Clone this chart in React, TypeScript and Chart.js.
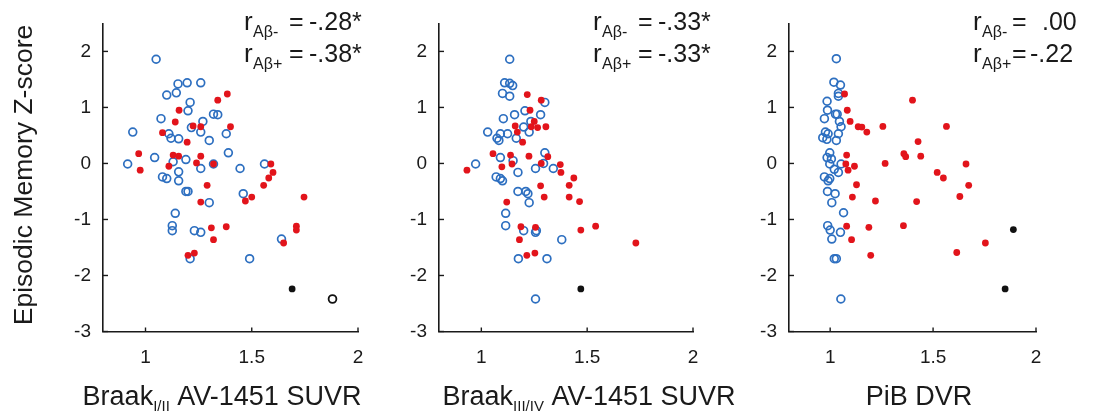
import React, { useEffect, useRef } from "react";
import { Chart, registerables } from "chart.js";
Chart.register(...registerables);

type Pt = [number, number];

const FONT = "'Liberation Sans', Arial, Helvetica, sans-serif";

// ---------------- data ----------------
const xTickValues = [1, 1.5, 2];
const yTickValues = [-3, -2, -1, 0, 1, 2];
const xRange = [0.8, 2];
const yRange = [-3, 2.5];

const yTitle = "Episodic Memory Z-score";

// Panel 1: Braak I/II
const braak12Neg: Pt[] = [
  [1.05, 1.86], [1.153, 1.42], [1.196, 1.44], [1.26, 1.44], [1.1, 1.22], [1.145, 1.26],
  [1.21, 1.09], [1.2, 0.94], [1.073, 0.8], [1.32, 0.88], [1.34, 0.87], [1.27, 0.75],
  [1.216, 0.64], [1.26, 0.56], [0.94, 0.56], [1.11, 0.53], [1.12, 0.45], [1.156, 0.44],
  [1.3, 0.41], [1.38, 0.53], [1.39, 0.19], [1.043, 0.105], [0.916, -0.01], [1.13, 0.03],
  [1.19, 0.07], [1.32, -0.01], [1.26, -0.09], [1.156, -0.15], [1.08, -0.24], [1.1, -0.27],
  [1.156, -0.31], [1.445, -0.09], [1.56, -0.01], [1.19, -0.5], [1.2, -0.5], [1.46, -0.54],
  [1.3, -0.7], [1.14, -0.89], [1.126, -1.11], [1.126, -1.2], [1.23, -1.2], [1.26, -1.23],
  [1.64, -1.35], [1.21, -1.7], [1.49, -1.7],
];
const braak12Pos: Pt[] = [
  [1.385, 1.24], [1.34, 1.13], [1.158, 0.95], [1.14, 0.74], [1.4, 0.655], [1.224, 0.67],
  [1.26, 0.655], [1.08, 0.55], [1.196, 0.38], [0.968, 0.175], [0.975, -0.12], [1.13, 0.15],
  [1.156, 0.13], [1.26, 0.13], [1.11, -0.05], [1.24, 0.01], [1.32, -0.01], [1.59, -0.01],
  [1.6, -0.16], [1.58, -0.26], [1.556, -0.39], [1.29, -0.39], [1.5, -0.6], [1.47, -0.67],
  [1.26, -0.69], [1.746, -0.6], [1.31, -1.15], [1.38, -1.13], [1.32, -1.36], [1.71, -1.12],
  [1.71, -1.19], [1.65, -1.42], [1.2, -1.64], [1.23, -1.6],
];
const braak12Other: Pt[] = [[1.69, -2.24]];
const braak12OtherOpen: Pt[] = [[1.88, -2.42]];

// Panel 2: Braak III/IV
const braak34Neg: Pt[] = [
  [1.134, 1.86], [1.11, 1.44], [1.134, 1.43], [1.148, 1.39], [1.1, 1.25], [1.134, 1.2],
  [1.3, 1.09], [1.206, 0.94], [1.28, 0.87], [1.157, 0.87], [1.104, 0.8], [1.234, 0.75],
  [1.2, 0.65], [1.226, 0.56], [1.03, 0.56], [1.09, 0.53], [1.124, 0.53], [1.074, 0.45],
  [1.083, 0.41], [1.165, 0.45], [1.3, 0.19], [0.973, -0.01], [1.09, 0.105], [1.15, 0.05],
  [1.294, 0.0], [1.256, -0.09], [1.34, -0.09], [1.173, -0.16], [1.07, -0.24], [1.09, -0.27],
  [1.1, -0.31], [1.173, -0.5], [1.21, -0.5], [1.22, -0.54], [1.226, -0.7], [1.115, -0.89],
  [1.115, -1.11], [1.2, -1.2], [1.26, -1.2], [1.256, -1.23], [1.38, -1.36], [1.175, -1.7],
  [1.31, -1.7], [1.256, -2.42],
];
const braak34Pos: Pt[] = [
  [1.217, 1.23], [1.283, 1.13], [1.23, 0.95], [1.25, 0.75], [1.16, 0.67], [1.17, 0.56],
  [1.236, 0.655], [1.266, 0.64], [1.305, 0.655], [1.195, 0.38], [1.055, 0.175], [0.932, -0.12],
  [1.138, 0.15], [1.225, 0.13], [1.314, 0.12], [1.097, -0.06], [1.145, -0.01], [1.283, 0.0],
  [1.373, -0.02], [1.376, -0.16], [1.437, -0.26], [1.415, -0.39], [1.28, -0.4], [1.415, -0.6],
  [1.297, -0.6], [1.464, -0.68], [1.12, -0.69], [1.187, -1.13], [1.256, -1.14], [1.47, -1.19],
  [1.54, -1.12], [1.18, -1.36], [1.73, -1.42], [1.215, -1.64], [1.253, -1.6],
];
const braak34Other: Pt[] = [[1.47, -2.24]];

// Panel 3: PiB DVR
const pibNeg: Pt[] = [
  [1.03, 1.87], [1.018, 1.45], [1.05, 1.4], [1.04, 1.25], [1.04, 1.2], [0.985, 1.11],
  [0.987, 0.95], [1.026, 0.88], [1.034, 0.88], [0.972, 0.8], [1.045, 0.75], [1.053, 0.655],
  [0.977, 0.56], [0.99, 0.53], [1.04, 0.53], [0.964, 0.46], [0.984, 0.43], [1.03, 0.41],
  [0.998, 0.19], [0.985, 0.105], [1.006, 0.08], [0.998, -0.01], [1.053, -0.01], [1.02, -0.105],
  [1.04, -0.16], [0.972, -0.24], [0.998, -0.27], [0.99, -0.31], [0.987, -0.5], [1.024, -0.54],
  [1.008, -0.7], [1.065, -0.88], [0.988, -1.11], [1.0, -1.19], [1.05, -1.23], [1.008, -1.35],
  [1.02, -1.7], [1.03, -1.7], [1.052, -2.42],
];
const pibPos: Pt[] = [
  [1.07, 1.24], [1.4, 1.13], [1.083, 0.95], [1.097, 0.75], [1.136, 0.655], [1.154, 0.65],
  [1.178, 0.56], [1.256, 0.66], [1.565, 0.66], [1.427, 0.39], [1.08, 0.15], [1.358, 0.175],
  [1.367, 0.12], [1.44, 0.13], [1.267, 0.0], [1.076, -0.01], [1.118, -0.05], [1.087, -0.12],
  [1.52, -0.16], [1.55, -0.26], [1.66, -0.01], [1.673, -0.39], [1.128, -0.38], [1.108, -0.6],
  [1.22, -0.67], [1.42, -0.68], [1.63, -0.59], [1.08, -1.12], [1.188, -1.14], [1.356, -1.11],
  [1.104, -1.36], [1.754, -1.42], [1.615, -1.59], [1.197, -1.64],
];
const pibOther: Pt[] = [[1.89, -1.18], [1.85, -2.24]];

// correlation labels
const rNeg = ["-.28*", "-.33*", ".00"];
const rPos = ["-.38*", "-.33*", "-.22"];

// ---------------- styles / layout ----------------
const BLUE = "#2d6fc0";
const RED = "#e2141b";
const BLACK = "#111111";
const INK = "#1a1a1a";

type Seg = { text: string; size: number; dy?: number };
type Panel = {
  left: number;
  width: number;
  areaLeft: number;
  areaRight: number;
  neg: Pt[];
  pos: Pt[];
  other: Pt[];
  otherOpen: Pt[];
  title: Seg[];
  titleCenter: number;
  rX: number;
  eqX: number[];
  valX: number[];
  rn: string;
  rp: string;
  yTitle: boolean;
};

const AREA_TOP = 17.5;
const AREA_BOTTOM = 331.5;
const H = 419;

const panels: Panel[] = [
  {
    left: 0, width: 380, areaLeft: 103, areaRight: 358,
    neg: braak12Neg, pos: braak12Pos, other: braak12Other, otherOpen: braak12OtherOpen,
    title: [{ text: "Braak", size: 27 }, { text: "I/II", size: 15, dy: 6 }, { text: " AV-1451 SUVR", size: 27 }],
    titleCenter: 222, rX: 244, eqX: [289, 289], valX: [309, 309], rn: rNeg[0], rp: rPos[0], yTitle: true,
  },
  {
    left: 380, width: 375, areaLeft: 439, areaRight: 693,
    neg: braak34Neg, pos: braak34Pos, other: braak34Other, otherOpen: [],
    title: [{ text: "Braak", size: 27 }, { text: "III/IV", size: 15, dy: 6 }, { text: " AV-1451 SUVR", size: 27 }],
    titleCenter: 589, rX: 593, eqX: [638, 638], valX: [658, 658], rn: rNeg[1], rp: rPos[1], yTitle: false,
  },
  {
    left: 755, width: 338, areaLeft: 789, areaRight: 1036,
    neg: pibNeg, pos: pibPos, other: pibOther, otherOpen: [],
    title: [{ text: "PiB DVR", size: 27 }],
    titleCenter: 919, rX: 973, eqX: [1012, 1012], valX: [1042, 1030], rn: rNeg[2], rp: rPos[2], yTitle: false,
  },
];

function toXY(a: Pt[]) {
  return a.map(([x, y]) => ({ x, y }));
}

function makeDecor(p: Panel) {
  return {
    id: "decor",
    afterDraw(chart: any) {
      const ctx: CanvasRenderingContext2D = chart.ctx;
      const { left, bottom } = chart.chartArea;
      const xs = chart.scales.x;
      const ys = chart.scales.y;
      const L = p.left;
      ctx.save();
      // inward tick marks
      ctx.strokeStyle = INK;
      ctx.lineWidth = 1.4;
      xs.ticks.forEach((t: any) => {
        const px = xs.getPixelForValue(t.value);
        ctx.beginPath();
        ctx.moveTo(px, bottom);
        ctx.lineTo(px, bottom - 4);
        ctx.stroke();
      });
      ys.ticks.forEach((t: any) => {
        const py = ys.getPixelForValue(t.value);
        ctx.beginPath();
        ctx.moveTo(left, py);
        ctx.lineTo(left + 5, py);
        ctx.stroke();
      });

      ctx.fillStyle = INK;
      ctx.textBaseline = "alphabetic";
      ctx.textAlign = "left";

      // x-axis title with optional subscript
      let total = 0;
      p.title.forEach((s) => {
        ctx.font = `${s.size}px ${FONT}`;
        total += ctx.measureText(s.text).width;
      });
      let cx = p.titleCenter - L - total / 2;
      p.title.forEach((s) => {
        ctx.font = `${s.size}px ${FONT}`;
        ctx.fillText(s.text, cx, 405 + (s.dy || 0));
        cx += ctx.measureText(s.text).width;
      });

      // correlation annotations
      const rows = [
        { sub: "A\u03b2-", val: p.rn, base: 30 },
        { sub: "A\u03b2+", val: p.rp, base: 62 },
      ];
      rows.forEach((r, i) => {
        ctx.font = `26px ${FONT}`;
        ctx.fillText("r", p.rX - L, r.base);
        ctx.font = `16px ${FONT}`;
        ctx.fillText(r.sub, p.rX - L + 9, r.base + 7);
        ctx.font = `25px ${FONT}`;
        ctx.fillText("=", p.eqX[i] - L, r.base);
        ctx.fillText(r.val, p.valX[i] - L, r.base);
      });

      // y-axis title
      if (p.yTitle) {
        ctx.save();
        ctx.translate(32 - L, 175);
        ctx.rotate(-Math.PI / 2);
        ctx.textAlign = "center";
        ctx.font = `26.5px ${FONT}`;
        ctx.fillText(yTitle, 0, 0);
        ctx.restore();
      }
      ctx.restore();
    },
  };
}

function PanelChart({ p }: { p: Panel }) {
  const ref = useRef<HTMLCanvasElement>(null);
  useEffect(() => {
    if (!ref.current) return;
    const yWidth = p.areaLeft - p.left;
    const padRight = p.left + p.width - p.areaRight;
    const datasets: any[] = [
      {
        label: "other",
        data: toXY(p.other),
        pointRadius: 3.4,
        pointBackgroundColor: BLACK,
        pointBorderWidth: 0,
        order: 1,
      },
      {
        label: "otherOpen",
        data: toXY(p.otherOpen),
        pointRadius: 3.9,
        pointBackgroundColor: "rgba(0,0,0,0)",
        pointBorderColor: BLACK,
        pointBorderWidth: 1.8,
        order: 1,
      },
      {
        label: "Abeta+",
        data: toXY(p.pos),
        pointRadius: 3.4,
        pointBackgroundColor: RED,
        pointBorderWidth: 0,
        order: 2,
      },
      {
        label: "Abeta-",
        data: toXY(p.neg),
        pointRadius: 3.9,
        pointBackgroundColor: "rgba(0,0,0,0)",
        pointBorderColor: BLUE,
        pointBorderWidth: 1.7,
        order: 3,
      },
    ];
    const chart = new Chart(ref.current, {
      type: "scatter",
      data: { datasets },
      options: {
        animation: false,
        responsive: false,
        events: [],
        layout: { padding: { left: 0, right: padRight, top: AREA_TOP, bottom: 0 } },
        plugins: { legend: { display: false }, tooltip: { enabled: false } },
        elements: { point: { hoverRadius: 0 } },
        datasets: { scatter: { clip: false } as any },
        scales: {
          x: {
            type: "linear",
            min: xRange[0],
            max: xRange[1],
            grid: { display: false, drawTicks: false },
            border: { display: true, color: INK, width: 1.6 },
            ticks: {
              color: INK,
              font: { family: FONT, size: 19 },
              padding: 15,
              callback: (v: any) => String(v),
            },
            afterBuildTicks: (s: any) => {
              s.ticks = xTickValues.map((v) => ({ value: v }));
            },
            afterFit: (s: any) => {
              s.height = H - AREA_BOTTOM;
            },
          },
          y: {
            type: "linear",
            min: yRange[0],
            max: yRange[1],
            grid: { display: false, drawTicks: false },
            border: { display: true, color: INK, width: 1.6 },
            ticks: {
              color: INK,
              font: { family: FONT, size: 19 },
              padding: 12,
              callback: (v: any) => String(v),
            },
            afterBuildTicks: (s: any) => {
              s.ticks = yTickValues.map((v) => ({ value: v }));
            },
            afterFit: (s: any) => {
              s.width = yWidth;
            },
          },
        },
      },
      plugins: [makeDecor(p)],
    } as any);
    return () => chart.destroy();
  }, [p]);
  return (
    <canvas
      ref={ref}
      width={p.width}
      height={H}
      style={{ position: "absolute", left: p.left, top: 0, width: p.width, height: H }}
    />
  );
}

export default function App() {
  return (
    <div
      style={{
        position: "fixed",
        left: 0,
        top: 0,
        width: 1093,
        height: H,
        background: "#ffffff",
        overflow: "hidden",
      }}
    >
      {panels.map((p, i) => (
        <PanelChart key={i} p={p} />
      ))}
    </div>
  );
}
